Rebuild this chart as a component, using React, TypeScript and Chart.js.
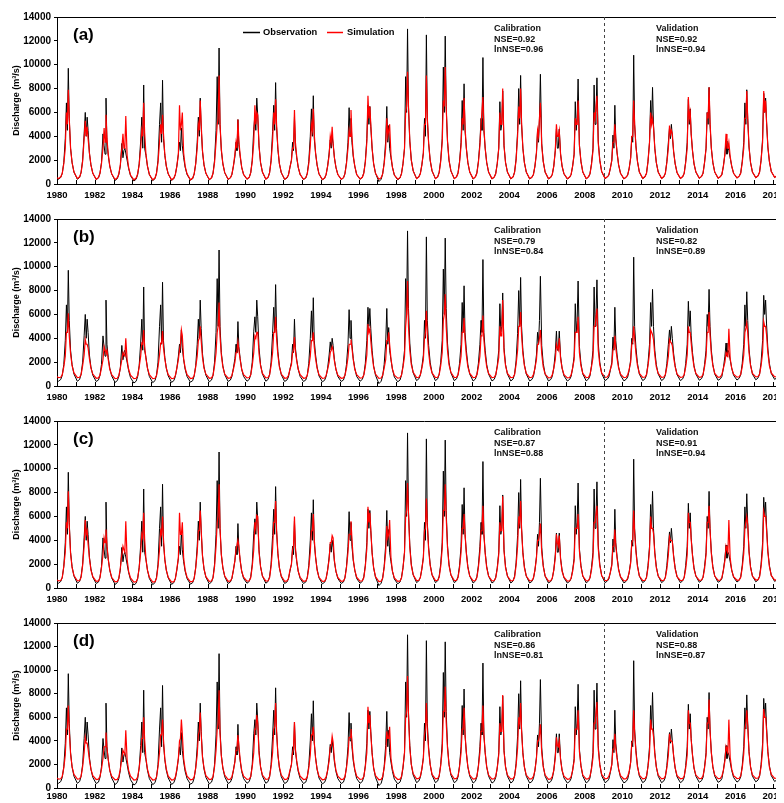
import React, { useEffect, useRef } from "react";
import { Chart, registerables } from "chart.js";

Chart.register(...registerables);

// Years of record (one hydrological cycle per year)
const YEARS = [
  1980, 1981, 1982, 1983, 1984, 1985, 1986, 1987, 1988, 1989,
  1990, 1991, 1992, 1993, 1994, 1995, 1996, 1997, 1998, 1999,
  2000, 2001, 2002, 2003, 2004, 2005, 2006, 2007, 2008, 2009,
  2010, 2011, 2012, 2013, 2014, 2015, 2016, 2017, 2018,
];
// Sampling dates inside each year (fraction of year):
// Jan 30, Mar 14, Apr 12, May 12, Jun 10, Jul 2, Jul 20, Aug 7, Aug 25, Sep 20, Oct 19, Nov 24
const SAMPLE_T = [0.08, 0.2, 0.28, 0.36, 0.44, 0.5, 0.55, 0.6, 0.65, 0.72, 0.8, 0.9];
// Discharge on 1 Jan 1980: observation, (a), (b), (c), (d)
const START_VALUES = [500, 520, 800, 680, 850];

const Y_TICKS = [0, 2000, 4000, 6000, 8000, 10000, 12000, 14000];
const X_MIN = 1980;
const X_MAX = 2019;
const SPLIT_YEAR = 2009;

// Observed discharge (m3/s), rows = years, cols = SAMPLE_T
const OBS = [
  [400, 550, 900, 1800, 3800, 6800, 4500, 9700, 5500, 3000, 1800, 1000],
  [400, 550, 1000, 2000, 4200, 6000, 4000, 5600, 4500, 2600, 1600, 900],
  [380, 500, 900, 1800, 4200, 3200, 2500, 7200, 3500, 2400, 1500, 850],
  [300, 450, 800, 1500, 3400, 2200, 2800, 3000, 2600, 2000, 1300, 700],
  [250, 400, 800, 1700, 3600, 5600, 3000, 8300, 3000, 2400, 1500, 800],
  [280, 450, 900, 2000, 5000, 6800, 3500, 8700, 3800, 2400, 1500, 850],
  [300, 450, 800, 1500, 2500, 3500, 2800, 4700, 3200, 2200, 1400, 800],
  [320, 450, 850, 1700, 3500, 5600, 4000, 7200, 4800, 2700, 1600, 900],
  [350, 500, 900, 2000, 4500, 9000, 5000, 11400, 5000, 2800, 1700, 950],
  [380, 500, 800, 1500, 2300, 3500, 2800, 5400, 3300, 2300, 1400, 800],
  [400, 550, 950, 2000, 4600, 5800, 4500, 7200, 5800, 3200, 1800, 1000],
  [400, 550, 950, 2000, 4400, 6600, 4500, 8500, 4800, 2900, 1700, 950],
  [380, 500, 750, 1400, 2000, 3500, 2800, 5600, 3200, 2200, 1400, 800],
  [380, 500, 900, 1900, 4000, 6300, 4000, 7400, 3800, 2600, 1600, 850],
  [350, 480, 800, 1500, 2600, 3700, 3000, 4000, 3400, 2200, 1400, 800],
  [380, 500, 900, 1800, 3500, 6400, 4000, 5500, 3500, 2300, 1500, 800],
  [400, 550, 950, 1900, 3800, 6600, 5000, 6500, 4800, 3000, 1700, 900],
  [200, 400, 850, 1800, 3600, 6500, 3500, 4900, 3000, 2200, 1400, 750],
  [350, 500, 900, 1700, 3000, 9000, 6000, 13000, 6500, 3600, 2000, 1100],
  [450, 600, 900, 1600, 2600, 5500, 4000, 12500, 5500, 3400, 2000, 1100],
  [450, 600, 1000, 2000, 3800, 9800, 6000, 12400, 6500, 3600, 2000, 1100],
  [450, 600, 950, 1900, 3500, 7000, 4500, 8400, 4500, 3000, 1800, 1000],
  [420, 580, 950, 1900, 3500, 5500, 4500, 10600, 4500, 3000, 1800, 1000],
  [420, 560, 900, 1700, 3000, 6900, 4500, 5000, 7800, 3200, 1800, 1000],
  [420, 580, 1000, 2100, 4400, 8000, 5000, 9100, 5000, 3000, 1800, 1000],
  [420, 550, 800, 1500, 2600, 4500, 3500, 5500, 9200, 3400, 1900, 1000],
  [420, 550, 800, 1500, 2800, 4600, 3000, 3000, 4600, 2500, 1500, 850],
  [420, 550, 800, 1500, 2500, 6900, 4500, 5500, 8800, 3300, 1900, 1000],
  [430, 580, 850, 1700, 3000, 8300, 5000, 6000, 8900, 3600, 2000, 1050],
  [450, 580, 750, 1300, 2000, 4100, 3000, 6600, 3800, 2600, 1600, 900],
  [430, 560, 750, 1300, 2200, 4000, 3500, 10800, 5000, 3200, 1900, 1000],
  [450, 600, 900, 1900, 3500, 7000, 5000, 8100, 5000, 3000, 1800, 1000],
  [450, 600, 900, 1900, 3500, 4700, 3800, 5000, 4000, 2700, 1700, 950],
  [450, 600, 900, 1900, 3500, 7100, 5000, 6300, 4200, 2800, 1700, 1000],
  [480, 620, 900, 1800, 3000, 6000, 5000, 8100, 5000, 3000, 1800, 1000],
  [480, 600, 800, 1500, 2500, 3600, 2500, 3000, 2800, 2200, 1500, 900],
  [500, 650, 950, 1900, 3500, 6800, 5000, 7900, 5500, 3100, 1800, 1000],
  [520, 680, 1000, 2000, 3800, 7600, 6000, 7200, 5200, 3100, 1900, 1050],
  [550, 700, 1000, 2000, 3500, 6000, 5000, 8000, 5200, 3200, 1900, 1000],
];

// Simulated discharge, panel (a)
const SIM_A = [
  [450, 600, 900, 1700, 3000, 6000, 5000, 7900, 5500, 3000, 1800, 1000],
  [450, 600, 950, 1900, 3800, 5300, 4000, 4800, 3800, 2600, 1600, 900],
  [400, 550, 900, 1700, 3000, 4700, 3500, 5800, 3800, 2500, 1500, 850],
  [380, 520, 850, 1600, 3000, 4200, 3000, 3000, 5700, 2400, 1400, 750],
  [350, 500, 850, 1600, 3000, 4500, 4000, 6800, 4300, 2500, 1500, 800],
  [350, 500, 900, 1800, 3500, 5000, 4200, 5800, 4200, 2500, 1500, 850],
  [350, 500, 800, 1500, 2500, 6600, 4500, 5000, 6000, 2600, 1500, 850],
  [350, 500, 850, 1700, 3000, 5000, 4500, 7000, 5000, 2800, 1600, 900],
  [380, 520, 900, 1800, 3500, 5000, 5500, 9100, 5000, 2900, 1700, 950],
  [400, 530, 800, 1500, 2500, 3500, 3000, 5400, 3600, 2400, 1400, 800],
  [420, 560, 950, 1900, 3500, 6600, 5000, 6000, 5800, 3200, 1800, 1000],
  [420, 560, 950, 1900, 3600, 6000, 5000, 7100, 5000, 3000, 1700, 950],
  [400, 530, 750, 1400, 2000, 3000, 3000, 6200, 3500, 2300, 1400, 800],
  [400, 530, 850, 1700, 3200, 5000, 4500, 6300, 4200, 2600, 1600, 850],
  [380, 500, 800, 1500, 2400, 4000, 3500, 4800, 3400, 2200, 1400, 800],
  [400, 530, 850, 1700, 3000, 4500, 4000, 6200, 4000, 2400, 1500, 800],
  [420, 560, 900, 1800, 3500, 7400, 5500, 6500, 5000, 3000, 1700, 900],
  [400, 520, 850, 1700, 3000, 5500, 4000, 4500, 5000, 2400, 1400, 750],
  [400, 530, 850, 1700, 3000, 6000, 6500, 9400, 6500, 3600, 2000, 1100],
  [450, 600, 850, 1600, 2600, 5000, 5000, 9100, 5500, 3400, 2000, 1100],
  [450, 600, 950, 1900, 3500, 7000, 6500, 9800, 6500, 3600, 2000, 1100],
  [450, 600, 900, 1800, 3200, 5500, 5000, 7200, 4800, 3000, 1800, 1000],
  [450, 600, 900, 1800, 3200, 5000, 5000, 7300, 4800, 3000, 1800, 1000],
  [450, 580, 850, 1700, 3000, 6000, 5000, 5000, 8000, 3200, 1800, 1000],
  [450, 600, 1000, 2000, 4000, 6500, 5500, 8000, 5200, 3000, 1800, 1000],
  [450, 580, 800, 1500, 2600, 4500, 4000, 5500, 6800, 3200, 1900, 1000],
  [450, 580, 800, 1500, 2800, 5000, 4000, 4000, 4500, 2500, 1500, 850],
  [450, 580, 800, 1500, 2500, 5500, 5000, 5000, 7000, 3200, 1900, 1000],
  [450, 600, 850, 1600, 2800, 6000, 5500, 5500, 7400, 3400, 2000, 1050],
  [480, 600, 750, 1300, 2000, 3500, 3500, 5000, 3800, 2600, 1600, 900],
  [450, 580, 750, 1300, 2200, 4000, 4000, 7000, 5000, 3100, 1900, 1000],
  [480, 620, 900, 1900, 3500, 6000, 5000, 5500, 4800, 3000, 1800, 1000],
  [480, 620, 900, 1800, 3000, 4900, 4200, 4500, 4200, 2700, 1700, 950],
  [480, 620, 900, 1800, 3000, 7300, 5500, 6000, 4200, 2800, 1700, 1000],
  [500, 640, 900, 1800, 3000, 6000, 5500, 8100, 5200, 3000, 1800, 1000],
  [500, 620, 800, 1500, 2500, 4200, 3000, 3000, 3500, 2300, 1500, 900],
  [520, 660, 900, 1800, 3000, 5500, 5500, 7800, 5500, 3100, 1800, 1000],
  [540, 690, 1000, 2000, 3500, 7800, 6000, 7000, 5200, 3100, 1900, 1050],
  [560, 700, 1000, 2000, 3500, 6000, 5500, 8000, 5200, 3200, 1900, 1000],
];

// Simulated discharge, panel (b)
const SIM_B = [
  [700, 730, 950, 1600, 2500, 4500, 4500, 6100, 4200, 2700, 1700, 1100],
  [700, 730, 950, 1700, 2600, 3900, 3500, 3500, 3200, 2300, 1500, 1000],
  [650, 680, 900, 1500, 2200, 3300, 3000, 2800, 3000, 2200, 1400, 950],
  [620, 650, 870, 1500, 2200, 2800, 2600, 2500, 4000, 2200, 1400, 900],
  [620, 650, 870, 1600, 2500, 3600, 3500, 4700, 3300, 2300, 1500, 950],
  [620, 650, 870, 1600, 2600, 3600, 3600, 4600, 3200, 2300, 1500, 950],
  [620, 650, 870, 1500, 2200, 3000, 3500, 4700, 4200, 2300, 1500, 950],
  [630, 660, 880, 1600, 2500, 3800, 4000, 5000, 3800, 2400, 1500, 1000],
  [650, 680, 900, 1700, 2800, 4500, 5000, 7000, 4200, 2600, 1600, 1000],
  [650, 680, 880, 1400, 2000, 2800, 3000, 3700, 3000, 2200, 1400, 950],
  [680, 710, 930, 1700, 2800, 4200, 4000, 4500, 4500, 2700, 1700, 1050],
  [680, 710, 930, 1700, 2800, 4500, 4500, 5800, 4000, 2600, 1600, 1000],
  [650, 680, 880, 1400, 1800, 2800, 3000, 4100, 2900, 2100, 1400, 950],
  [650, 680, 900, 1600, 2500, 3800, 3800, 4500, 3300, 2300, 1500, 950],
  [640, 670, 880, 1400, 2000, 2800, 3000, 3300, 3000, 2100, 1400, 900],
  [650, 680, 900, 1500, 2400, 3500, 3500, 3900, 3200, 2200, 1400, 950],
  [660, 690, 910, 1600, 2600, 5200, 4500, 4800, 3800, 2600, 1600, 1000],
  [640, 670, 890, 1500, 2200, 3800, 3800, 4500, 3500, 2300, 1400, 900],
  [660, 690, 910, 1600, 2500, 5000, 6000, 8800, 5000, 3000, 1800, 1150],
  [700, 730, 950, 1500, 2200, 4000, 4500, 6300, 4300, 2800, 1700, 1100],
  [700, 730, 950, 1700, 2800, 5500, 6000, 7700, 5000, 3000, 1800, 1150],
  [700, 730, 950, 1600, 2500, 4500, 4500, 5700, 3900, 2600, 1600, 1050],
  [700, 730, 950, 1600, 2500, 4200, 4500, 5900, 3900, 2600, 1600, 1050],
  [700, 730, 950, 1600, 2400, 5000, 4200, 4200, 7200, 2900, 1700, 1050],
  [700, 730, 950, 1800, 3000, 5000, 5000, 6200, 4300, 2700, 1700, 1050],
  [700, 730, 950, 1500, 2200, 3500, 3500, 4000, 4700, 2700, 1600, 1000],
  [680, 710, 930, 1500, 2200, 3500, 3200, 3000, 4000, 2300, 1500, 950],
  [680, 710, 930, 1500, 2200, 4500, 4500, 4500, 5800, 2800, 1700, 1050],
  [700, 730, 950, 1600, 2400, 5000, 5000, 5000, 6500, 3000, 1800, 1100],
  [720, 750, 950, 1400, 1800, 3000, 3200, 4200, 3200, 2300, 1500, 1000],
  [700, 730, 930, 1400, 2000, 3500, 3800, 5000, 4000, 2700, 1700, 1050],
  [720, 750, 970, 1700, 2800, 4700, 4500, 4300, 3900, 2600, 1600, 1050],
  [720, 750, 970, 1600, 2500, 3900, 3700, 3600, 3400, 2400, 1600, 1000],
  [720, 750, 970, 1600, 2600, 5000, 4500, 4500, 3600, 2500, 1600, 1050],
  [730, 760, 980, 1600, 2500, 4500, 4500, 6200, 4300, 2700, 1700, 1050],
  [730, 760, 960, 1500, 2000, 2800, 2600, 2500, 4800, 2300, 1500, 1000],
  [740, 770, 990, 1600, 2600, 4500, 4800, 5300, 4500, 2800, 1700, 1050],
  [760, 790, 1010, 1700, 2800, 5400, 5000, 5000, 4300, 2800, 1700, 1100],
  [760, 790, 1010, 1700, 2700, 4500, 4500, 5000, 4300, 2800, 1700, 1100],
];

// Simulated discharge, panel (c)
const SIM_C = [
  [600, 630, 880, 1800, 3000, 5500, 5000, 8100, 5200, 2900, 1700, 1050],
  [600, 630, 900, 1900, 3500, 5700, 4500, 4800, 3700, 2500, 1500, 950],
  [560, 590, 850, 1700, 2800, 4200, 3800, 4900, 3600, 2400, 1500, 900],
  [520, 550, 800, 1700, 2800, 3500, 3200, 3000, 5600, 2400, 1400, 850],
  [500, 530, 800, 1700, 3000, 4500, 4200, 6300, 4100, 2400, 1500, 900],
  [500, 530, 820, 1800, 3200, 4800, 4500, 6000, 4100, 2400, 1500, 900],
  [500, 530, 780, 1600, 2500, 6300, 4500, 4500, 5500, 2500, 1500, 900],
  [520, 550, 800, 1700, 3000, 4800, 4800, 6500, 4900, 2700, 1600, 950],
  [550, 580, 850, 1800, 3500, 5500, 6000, 8700, 5000, 2800, 1700, 1000],
  [560, 590, 820, 1500, 2300, 3200, 3200, 4000, 3500, 2300, 1400, 900],
  [580, 610, 860, 1800, 3200, 5500, 5000, 6100, 6000, 3000, 1800, 1000],
  [580, 610, 860, 1800, 3300, 5500, 5500, 7300, 4900, 2900, 1700, 1000],
  [560, 590, 800, 1500, 2000, 3200, 3500, 6000, 3400, 2300, 1400, 900],
  [560, 590, 830, 1700, 3000, 4800, 4800, 6200, 4100, 2600, 1500, 900],
  [550, 580, 800, 1500, 2400, 3800, 3800, 4400, 4200, 2300, 1400, 880],
  [560, 590, 830, 1700, 3000, 4500, 4500, 5600, 4100, 2400, 1500, 900],
  [580, 610, 860, 1800, 3300, 6800, 5500, 6300, 4900, 2900, 1700, 950],
  [540, 570, 820, 1700, 3000, 5200, 4200, 4500, 5700, 2500, 1400, 850],
  [560, 590, 840, 1700, 3000, 6000, 6500, 8800, 6200, 3400, 1900, 1100],
  [620, 650, 880, 1600, 2500, 4800, 5000, 7500, 5200, 3200, 1900, 1100],
  [620, 650, 900, 1800, 3300, 6500, 6500, 8700, 6000, 3400, 1900, 1100],
  [620, 650, 880, 1700, 3000, 5000, 5000, 6200, 4600, 2900, 1700, 1000],
  [600, 630, 870, 1700, 3000, 4800, 5000, 6900, 4600, 2900, 1700, 1000],
  [600, 630, 860, 1600, 2800, 5500, 4800, 4800, 7700, 3100, 1700, 1000],
  [600, 630, 900, 1900, 3500, 6000, 5500, 7300, 5000, 2900, 1700, 1000],
  [600, 630, 850, 1500, 2500, 4000, 4000, 4500, 5400, 3000, 1800, 1000],
  [580, 610, 830, 1500, 2500, 4500, 3800, 3500, 4400, 2400, 1400, 900],
  [580, 610, 820, 1400, 2300, 5000, 5000, 5000, 6200, 3100, 1800, 1000],
  [600, 630, 850, 1500, 2600, 5500, 5500, 5500, 6900, 3300, 1900, 1050],
  [620, 650, 830, 1300, 1900, 3500, 3500, 4900, 3500, 2500, 1500, 950],
  [600, 630, 820, 1300, 2100, 3800, 4000, 6500, 4600, 3000, 1800, 1000],
  [620, 650, 880, 1700, 3200, 6000, 5000, 5000, 4600, 2900, 1700, 1000],
  [620, 650, 870, 1600, 2800, 4300, 4000, 4000, 3900, 2600, 1600, 950],
  [620, 650, 870, 1600, 2800, 6300, 5500, 5500, 4100, 2700, 1600, 1000],
  [640, 670, 890, 1600, 2800, 5500, 5500, 6900, 4900, 2900, 1700, 1000],
  [640, 670, 870, 1500, 2300, 3500, 3200, 3000, 5700, 2500, 1500, 950],
  [650, 680, 900, 1700, 2900, 5000, 5500, 6000, 5300, 3000, 1700, 1000],
  [670, 700, 930, 1800, 3200, 6400, 6000, 6000, 4900, 3000, 1800, 1050],
  [670, 700, 930, 1800, 3200, 5500, 5500, 6000, 4900, 3000, 1800, 1050],
];

// Simulated discharge, panel (d)
const SIM_D = [
  [750, 780, 1000, 1700, 2800, 5000, 5000, 7000, 4900, 2900, 1800, 1150],
  [750, 780, 1000, 1800, 3000, 4300, 3800, 3800, 3300, 2400, 1600, 1050],
  [720, 750, 970, 1600, 2500, 3500, 3500, 4700, 3400, 2400, 1500, 1000],
  [700, 730, 950, 1600, 2500, 3200, 3000, 2800, 4900, 2400, 1500, 1000],
  [680, 710, 930, 1700, 2800, 4200, 4200, 6000, 4100, 2500, 1600, 1000],
  [680, 710, 940, 1800, 3000, 4500, 4500, 5800, 4100, 2500, 1600, 1000],
  [680, 710, 920, 1600, 2500, 4000, 4200, 5800, 4600, 2500, 1600, 1000],
  [700, 730, 950, 1700, 2800, 4500, 4800, 6400, 4600, 2600, 1700, 1050],
  [720, 750, 970, 1800, 3200, 5000, 5500, 8300, 4600, 2700, 1700, 1100],
  [720, 750, 950, 1500, 2200, 3200, 3300, 4500, 3600, 2400, 1500, 1000],
  [730, 760, 980, 1800, 3000, 5000, 5000, 6200, 5500, 2900, 1800, 1100],
  [730, 760, 980, 1800, 3000, 5000, 5200, 7200, 4900, 2800, 1800, 1100],
  [720, 750, 950, 1500, 2000, 3000, 3300, 5600, 3300, 2300, 1500, 1000],
  [720, 750, 960, 1700, 2800, 4500, 4500, 5200, 3900, 2500, 1600, 1000],
  [700, 730, 940, 1500, 2300, 3500, 3600, 4400, 3900, 2400, 1500, 1000],
  [720, 750, 960, 1700, 2800, 4300, 4300, 5000, 3900, 2500, 1600, 1000],
  [730, 760, 980, 1800, 3000, 6900, 5500, 6200, 4600, 2900, 1700, 1050],
  [700, 730, 950, 1700, 2800, 4800, 4200, 4200, 5200, 2500, 1600, 1000],
  [720, 750, 980, 1800, 3000, 6000, 6500, 9500, 6100, 3400, 2000, 1200],
  [780, 810, 1000, 1600, 2500, 4500, 5000, 7200, 4900, 3200, 2000, 1150],
  [780, 810, 1030, 1900, 3200, 6500, 6500, 8600, 5600, 3400, 2000, 1200],
  [780, 810, 1020, 1800, 3000, 5000, 5000, 6800, 4600, 3000, 1800, 1100],
  [760, 790, 1000, 1800, 3000, 4800, 5000, 7000, 4600, 3000, 1800, 1100],
  [760, 790, 1000, 1700, 2800, 5500, 4800, 4800, 7900, 3100, 1800, 1100],
  [760, 790, 1020, 1900, 3400, 6000, 5500, 7200, 4900, 2900, 1800, 1100],
  [760, 790, 990, 1500, 2500, 4000, 4000, 4500, 5400, 3000, 1800, 1100],
  [740, 770, 970, 1500, 2500, 4300, 3600, 3500, 4000, 2400, 1500, 1000],
  [740, 770, 970, 1500, 2300, 5000, 5000, 5000, 6600, 3100, 1900, 1100],
  [760, 790, 1000, 1600, 2600, 5500, 5500, 5500, 7300, 3300, 2000, 1150],
  [780, 810, 990, 1400, 2000, 3300, 3300, 4600, 3400, 2500, 1600, 1050],
  [760, 790, 980, 1400, 2200, 3800, 4000, 6600, 4600, 3000, 1800, 1100],
  [780, 810, 1020, 1800, 3000, 5800, 5000, 5000, 4400, 2900, 1800, 1100],
  [780, 810, 1020, 1700, 2800, 4600, 4000, 4000, 3900, 2700, 1700, 1050],
  [780, 810, 1020, 1700, 2800, 6600, 5500, 5500, 4100, 2800, 1700, 1100],
  [790, 820, 1030, 1700, 2800, 5500, 5500, 7500, 4900, 3000, 1800, 1100],
  [790, 820, 1010, 1500, 2300, 3500, 3200, 3000, 5800, 2600, 1600, 1050],
  [800, 830, 1040, 1700, 2900, 5000, 5500, 6600, 5300, 3000, 1800, 1100],
  [820, 850, 1060, 1800, 3200, 6700, 6000, 6000, 4900, 3000, 1800, 1150],
  [820, 850, 1060, 1800, 3200, 5000, 5500, 5800, 4900, 3000, 1800, 1150],
];

const PANEL_LABELS = ["(a)", "(b)", "(c)", "(d)"];
const CAL_NSE = ["0.92", "0.79", "0.87", "0.86"];
const CAL_LNNSE = ["0.96", "0.84", "0.88", "0.81"];
const VAL_NSE = ["0.92", "0.82", "0.91", "0.88"];
const VAL_LNNSE = ["0.94", "0.89", "0.94", "0.87"];
const SIMS = [SIM_A, SIM_B, SIM_C, SIM_D];

const FONT = '"Liberation Sans", Arial, sans-serif';

function toPoints(rows: number[][], start: number) {
  const pts: { x: number; y: number }[] = [{ x: X_MIN, y: start }];
  YEARS.forEach((yr, i) => {
    SAMPLE_T.forEach((t, k) => {
      pts.push({ x: yr + t, y: rows[i][k] });
    });
  });
  return pts;
}

const decorPlugin = {
  id: "decor",
  afterDatasetsDraw(chart: any, _args: any, opts: any) {
    const { ctx, chartArea, scales } = chart;
    const { left, right, top, bottom } = chartArea;
    const x = scales.x;
    ctx.save();
    ctx.strokeStyle = "#000";
    ctx.lineWidth = 1;
    ctx.beginPath();
    ctx.moveTo(left, top + 0.5);
    ctx.lineTo(right, top + 0.5);
    ctx.stroke();
    ctx.beginPath();
    for (let yr = X_MIN; yr <= X_MAX; yr++) {
      const px = Math.round(x.getPixelForValue(yr)) + 0.5;
      ctx.moveTo(px, bottom);
      ctx.lineTo(px, bottom - 4);
    }
    ctx.stroke();
    const sx = Math.round(x.getPixelForValue(SPLIT_YEAR)) + 0.5;
    ctx.strokeStyle = "#444";
    ctx.setLineDash([3, 3]);
    ctx.beginPath();
    ctx.moveTo(sx, top);
    ctx.lineTo(sx, bottom);
    ctx.stroke();
    ctx.setLineDash([]);

    ctx.fillStyle = "#000";
    ctx.textBaseline = "middle";
    ctx.textAlign = "left";
    ctx.font = `bold 17px ${FONT}`;
    ctx.fillText(opts.label, left + 16, top + 18);

    ctx.font = `bold 9px ${FONT}`;
    ctx.fillStyle = "#111";
    const cx = left + 437;
    const vx = left + 599;
    ctx.fillText("Calibration", cx, top + 12);
    ctx.fillText("NSE=" + opts.calNse, cx, top + 22.5);
    ctx.fillText("lnNSE=" + opts.calLn, cx, top + 33);
    ctx.fillText("Validation", vx, top + 12);
    ctx.fillText("NSE=" + opts.valNse, vx, top + 22.5);
    ctx.fillText("lnNSE=" + opts.valLn, vx, top + 33);

    if (opts.legend) {
      const ly = top + 15.5;
      ctx.lineWidth = 1.5;
      ctx.strokeStyle = "#000";
      ctx.beginPath();
      ctx.moveTo(left + 186, ly);
      ctx.lineTo(left + 203, ly);
      ctx.stroke();
      ctx.fillStyle = "#000";
      ctx.font = `bold 9.3px ${FONT}`;
      ctx.fillText("Observation", left + 206, ly);
      ctx.strokeStyle = "#ff0000";
      ctx.beginPath();
      ctx.moveTo(left + 270, ly);
      ctx.lineTo(left + 286, ly);
      ctx.stroke();
      ctx.fillText("Simulation", left + 290, ly);
    }
    ctx.restore();
  },
};

function Panel({ idx }: { idx: number }) {
  const ref = useRef<HTMLCanvasElement>(null);
  useEffect(() => {
    if (!ref.current) return;
    const last = idx === 3;
    const chart = new Chart(ref.current, {
      type: "line",
      data: {
        datasets: [
          {
            label: "Observation",
            data: toPoints(OBS, START_VALUES[0]),
            borderColor: "#000000",
            borderWidth: 1,
            pointRadius: 0,
            tension: 0,
            order: 1,
          },
          {
            label: "Simulation",
            data: toPoints(SIMS[idx], START_VALUES[idx + 1]),
            borderColor: "#ff0000",
            borderWidth: 1.2,
            pointRadius: 0,
            tension: 0,
            order: 0,
          },
        ],
      },
      options: {
        responsive: false,
        maintainAspectRatio: false,
        animation: false,
        events: [],
        layout: { padding: { top: last ? 7 : 9, right: 16, left: 0, bottom: 0 } },
        plugins: {
          legend: { display: false },
          tooltip: { enabled: false },
          decor: {
            label: PANEL_LABELS[idx],
            calNse: CAL_NSE[idx],
            calLn: CAL_LNNSE[idx],
            valNse: VAL_NSE[idx],
            valLn: VAL_LNNSE[idx],
            legend: idx === 0,
          },
        } as any,
        scales: {
          x: {
            type: "linear",
            min: X_MIN,
            max: X_MAX,
            border: { display: true, color: "#000", width: 1 },
            grid: { drawOnChartArea: false, drawTicks: false },
            ticks: {
              stepSize: 1,
              autoSkip: false,
              maxRotation: 0,
              padding: last ? 3 : 6,
              color: "#000",
              font: { family: FONT, size: 9.5, weight: "bold" },
              callback: (v: any) => (Number(v) % 2 === 0 ? String(v) : ""),
            },
            afterFit: (s: any) => {
              s.height = last ? 28 : 26;
            },
          },
          y: {
            min: 0,
            max: 14000,
            border: { display: true, color: "#000", width: 1 },
            grid: { drawOnChartArea: false, drawTicks: true, tickLength: 3, color: "#000" },
            afterBuildTicks: (s: any) => {
              s.ticks = Y_TICKS.map((v) => ({ value: v }));
            },
            ticks: {
              padding: 3,
              color: "#000",
              font: { family: FONT, size: 10, weight: "bold" },
              callback: (v: any) => String(v),
            },
            title: {
              display: true,
              text: "Discharge (m³/s)",
              color: "#000",
              font: { family: FONT, size: 9, weight: "bold" },
              padding: { top: 3, bottom: 0 },
            },
            afterFit: (s: any) => {
              s.width = 49;
            },
          },
        },
      },
      plugins: [decorPlugin],
    } as any);
    return () => chart.destroy();
  }, [idx]);
  return (
    <canvas
      ref={ref}
      width={800}
      height={202}
      style={{ display: "block", width: 800, height: 202 }}
    />
  );
}

export default function App() {
  useEffect(() => {
    document.documentElement.style.overflow = "hidden";
    document.body.style.overflow = "hidden";
  }, []);
  return (
    <div
      style={{
        width: 776,
        height: 808,
        overflow: "hidden",
        background: "#fff",
      }}
    >
      {[0, 1, 2, 3].map((i) => (
        <Panel key={i} idx={i} />
      ))}
    </div>
  );
}
